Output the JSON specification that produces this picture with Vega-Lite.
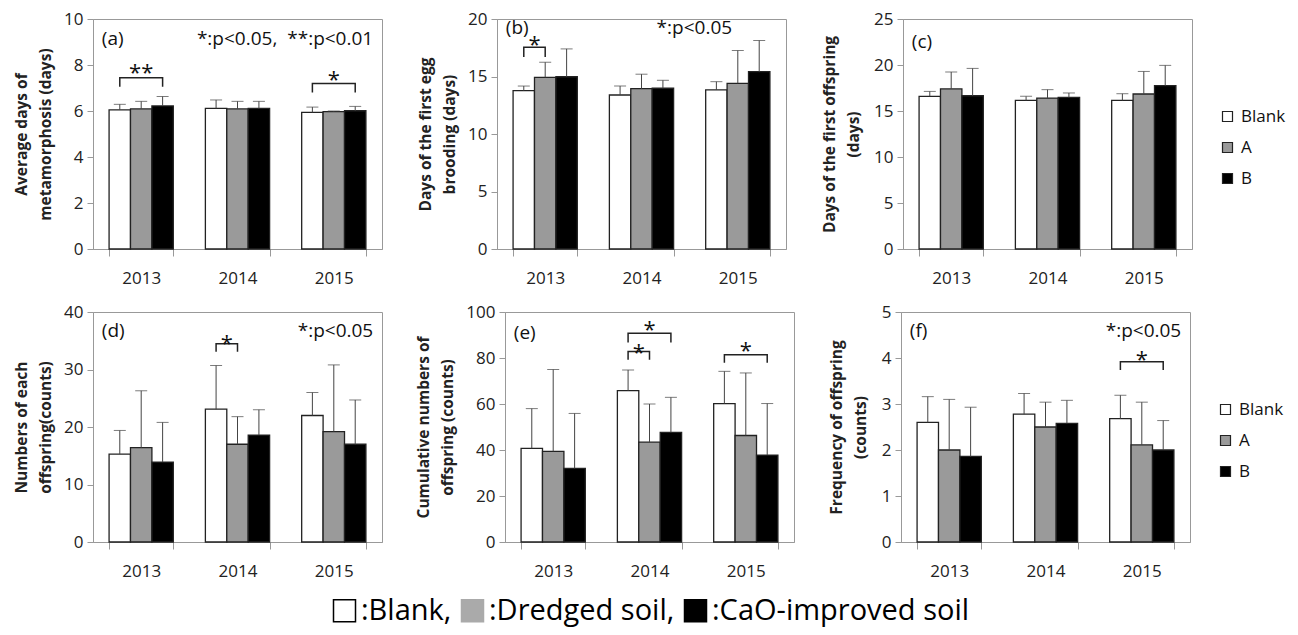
{
  "$schema": "https://vega.github.io/schema/vega-lite/v6.json",
  "padding": {"left": 14, "top": 9, "right": 0, "bottom": 25},
  "background": "white",
  "spacing": 15,
  "config": {
    "font": "Open Sans",
    "view": {"stroke": "#999", "strokeWidth": 1},
    "axis": {"domainColor": "#999", "tickColor": "#999", "labelColor": "#222", "labelFontSize": 17, "titleFontSize": 15.5, "titleFontWeight": "bold", "titleColor": "#222", "grid": false},
    "axisX": {"tickBand": "extent", "tickSize": 7, "labelPadding": 14, "labelAngle": 0},
    "axisY": {"tickSize": 6, "labelPadding": 4, "titlePadding": 10, "titleLineHeight": 24}
  },
  "datasets": {
    "bars": [
      {"panel": "a", "year": "2013", "group": "Blank", "mean": 6.05, "upper": 6.29},
      {"panel": "a", "year": "2013", "group": "A", "mean": 6.09, "upper": 6.42},
      {"panel": "a", "year": "2013", "group": "B", "mean": 6.22, "upper": 6.63},
      {"panel": "a", "year": "2014", "group": "Blank", "mean": 6.11, "upper": 6.48},
      {"panel": "a", "year": "2014", "group": "A", "mean": 6.09, "upper": 6.42},
      {"panel": "a", "year": "2014", "group": "B", "mean": 6.11, "upper": 6.42},
      {"panel": "a", "year": "2015", "group": "Blank", "mean": 5.94, "upper": 6.17},
      {"panel": "a", "year": "2015", "group": "A", "mean": 5.97, "upper": 6.0},
      {"panel": "a", "year": "2015", "group": "B", "mean": 6.01, "upper": 6.2},
      {"panel": "b", "year": "2013", "group": "Blank", "mean": 13.77, "upper": 14.17},
      {"panel": "b", "year": "2013", "group": "A", "mean": 14.93, "upper": 16.24},
      {"panel": "b", "year": "2013", "group": "B", "mean": 14.98, "upper": 17.4},
      {"panel": "b", "year": "2014", "group": "Blank", "mean": 13.39, "upper": 14.17},
      {"panel": "b", "year": "2014", "group": "A", "mean": 13.94, "upper": 15.2},
      {"panel": "b", "year": "2014", "group": "B", "mean": 13.98, "upper": 14.67},
      {"panel": "b", "year": "2015", "group": "Blank", "mean": 13.83, "upper": 14.55},
      {"panel": "b", "year": "2015", "group": "A", "mean": 14.41, "upper": 17.26},
      {"panel": "b", "year": "2015", "group": "B", "mean": 15.42, "upper": 18.13},
      {"panel": "c", "year": "2013", "group": "Blank", "mean": 16.6, "upper": 17.13},
      {"panel": "c", "year": "2013", "group": "A", "mean": 17.4, "upper": 19.24},
      {"panel": "c", "year": "2013", "group": "B", "mean": 16.66, "upper": 19.63},
      {"panel": "c", "year": "2014", "group": "Blank", "mean": 16.15, "upper": 16.59},
      {"panel": "c", "year": "2014", "group": "A", "mean": 16.41, "upper": 17.32},
      {"panel": "c", "year": "2014", "group": "B", "mean": 16.48, "upper": 16.96},
      {"panel": "c", "year": "2015", "group": "Blank", "mean": 16.15, "upper": 16.88},
      {"panel": "c", "year": "2015", "group": "A", "mean": 16.85, "upper": 19.3},
      {"panel": "c", "year": "2015", "group": "B", "mean": 17.75, "upper": 19.96},
      {"panel": "d", "year": "2013", "group": "Blank", "mean": 15.3, "upper": 19.4},
      {"panel": "d", "year": "2013", "group": "A", "mean": 16.4, "upper": 26.3},
      {"panel": "d", "year": "2013", "group": "B", "mean": 13.9, "upper": 20.8},
      {"panel": "d", "year": "2014", "group": "Blank", "mean": 23.1, "upper": 30.7},
      {"panel": "d", "year": "2014", "group": "A", "mean": 17.0, "upper": 21.8},
      {"panel": "d", "year": "2014", "group": "B", "mean": 18.6, "upper": 23.0},
      {"panel": "d", "year": "2015", "group": "Blank", "mean": 22.0, "upper": 26.0},
      {"panel": "d", "year": "2015", "group": "A", "mean": 19.2, "upper": 30.8},
      {"panel": "d", "year": "2015", "group": "B", "mean": 17.0, "upper": 24.7},
      {"panel": "e", "year": "2013", "group": "Blank", "mean": 40.7, "upper": 58.0},
      {"panel": "e", "year": "2013", "group": "A", "mean": 39.4, "upper": 75.0},
      {"panel": "e", "year": "2013", "group": "B", "mean": 32.0, "upper": 55.9},
      {"panel": "e", "year": "2014", "group": "Blank", "mean": 65.8, "upper": 74.8},
      {"panel": "e", "year": "2014", "group": "A", "mean": 43.4, "upper": 60.0},
      {"panel": "e", "year": "2014", "group": "B", "mean": 47.7, "upper": 62.9},
      {"panel": "e", "year": "2015", "group": "Blank", "mean": 60.2, "upper": 74.2},
      {"panel": "e", "year": "2015", "group": "A", "mean": 46.3, "upper": 73.5},
      {"panel": "e", "year": "2015", "group": "B", "mean": 37.8, "upper": 60.2},
      {"panel": "f", "year": "2013", "group": "Blank", "mean": 2.6, "upper": 3.16},
      {"panel": "f", "year": "2013", "group": "A", "mean": 2.0, "upper": 3.1},
      {"panel": "f", "year": "2013", "group": "B", "mean": 1.86, "upper": 2.93},
      {"panel": "f", "year": "2014", "group": "Blank", "mean": 2.78, "upper": 3.23},
      {"panel": "f", "year": "2014", "group": "A", "mean": 2.5, "upper": 3.04},
      {"panel": "f", "year": "2014", "group": "B", "mean": 2.58, "upper": 3.08},
      {"panel": "f", "year": "2015", "group": "Blank", "mean": 2.68, "upper": 3.19},
      {"panel": "f", "year": "2015", "group": "A", "mean": 2.11, "upper": 3.04},
      {"panel": "f", "year": "2015", "group": "B", "mean": 2.0, "upper": 2.64}
    ],
    "brackets": [
      {"panel": "a", "year": "2013", "id": "a1", "group": "Blank", "y": 7.05, "ord": 0},
      {"panel": "a", "year": "2013", "id": "a1", "group": "Blank", "y": 7.45, "ord": 1},
      {"panel": "a", "year": "2013", "id": "a1", "group": "B", "y": 7.45, "ord": 2},
      {"panel": "a", "year": "2013", "id": "a1", "group": "B", "y": 7.05, "ord": 3},
      {"panel": "a", "year": "2015", "id": "a2", "group": "Blank", "y": 6.8, "ord": 0},
      {"panel": "a", "year": "2015", "id": "a2", "group": "Blank", "y": 7.2, "ord": 1},
      {"panel": "a", "year": "2015", "id": "a2", "group": "B", "y": 7.2, "ord": 2},
      {"panel": "a", "year": "2015", "id": "a2", "group": "B", "y": 6.8, "ord": 3},
      {"panel": "b", "year": "2013", "id": "b1", "group": "Blank", "y": 16.7, "ord": 0},
      {"panel": "b", "year": "2013", "id": "b1", "group": "Blank", "y": 17.55, "ord": 1},
      {"panel": "b", "year": "2013", "id": "b1", "group": "A", "y": 17.55, "ord": 2},
      {"panel": "b", "year": "2013", "id": "b1", "group": "A", "y": 16.7, "ord": 3},
      {"panel": "d", "year": "2014", "id": "d1", "group": "Blank", "y": 33.1, "ord": 0},
      {"panel": "d", "year": "2014", "id": "d1", "group": "Blank", "y": 34.5, "ord": 1},
      {"panel": "d", "year": "2014", "id": "d1", "group": "A", "y": 34.5, "ord": 2},
      {"panel": "d", "year": "2014", "id": "d1", "group": "A", "y": 33.1, "ord": 3},
      {"panel": "e", "year": "2014", "id": "e1", "group": "Blank", "y": 86.7, "ord": 0},
      {"panel": "e", "year": "2014", "id": "e1", "group": "Blank", "y": 90.8, "ord": 1},
      {"panel": "e", "year": "2014", "id": "e1", "group": "B", "y": 90.8, "ord": 2},
      {"panel": "e", "year": "2014", "id": "e1", "group": "B", "y": 86.7, "ord": 3},
      {"panel": "e", "year": "2014", "id": "e2", "group": "Blank", "y": 79.2, "ord": 0},
      {"panel": "e", "year": "2014", "id": "e2", "group": "Blank", "y": 82.8, "ord": 1},
      {"panel": "e", "year": "2014", "id": "e2", "group": "A", "y": 82.8, "ord": 2},
      {"panel": "e", "year": "2014", "id": "e2", "group": "A", "y": 79.2, "ord": 3},
      {"panel": "e", "year": "2015", "id": "e3", "group": "Blank", "y": 77.9, "ord": 0},
      {"panel": "e", "year": "2015", "id": "e3", "group": "Blank", "y": 81.4, "ord": 1},
      {"panel": "e", "year": "2015", "id": "e3", "group": "B", "y": 81.4, "ord": 2},
      {"panel": "e", "year": "2015", "id": "e3", "group": "B", "y": 77.9, "ord": 3},
      {"panel": "f", "year": "2015", "id": "f1", "group": "Blank", "y": 3.74, "ord": 0},
      {"panel": "f", "year": "2015", "id": "f1", "group": "Blank", "y": 3.92, "ord": 1},
      {"panel": "f", "year": "2015", "id": "f1", "group": "B", "y": 3.92, "ord": 2},
      {"panel": "f", "year": "2015", "id": "f1", "group": "B", "y": 3.74, "ord": 3}
    ],
    "stars": [
      {"panel": "a", "year": "2013", "group": "A", "y": 7.88, "text": "**", "pos": "on"},
      {"panel": "a", "year": "2015", "group": "A", "y": 7.55, "text": "*", "pos": "on"},
      {"panel": "b", "year": "2013", "group": "Blank", "y": 18.2, "text": "*", "pos": "between"},
      {"panel": "d", "year": "2014", "group": "Blank", "y": 35.3, "text": "*", "pos": "between"},
      {"panel": "e", "year": "2014", "group": "A", "y": 94.4, "text": "*", "pos": "on"},
      {"panel": "e", "year": "2014", "group": "Blank", "y": 84.4, "text": "*", "pos": "between"},
      {"panel": "e", "year": "2015", "group": "A", "y": 85.3, "text": "*", "pos": "on"},
      {"panel": "f", "year": "2015", "group": "A", "y": 4.07, "text": "*", "pos": "on"}
    ],
    "notes": [
      {"panel": "a", "year": "2013", "group": "Blank", "y": 9.14, "text": "(a)", "side": "left"},
      {"panel": "a", "year": "2015", "group": "B", "y": 9.14, "text": "*:p<0.05,\u00a0\u00a0**:p<0.01", "side": "right"},
      {"panel": "b", "year": "2013", "group": "Blank", "y": 19.24, "text": "(b)", "side": "left"},
      {"panel": "b", "year": "2015", "group": "Blank", "y": 19.24, "text": "*:p<0.05", "side": "center"},
      {"panel": "c", "year": "2013", "group": "Blank", "y": 22.46, "text": "(c)", "side": "left"},
      {"panel": "d", "year": "2013", "group": "Blank", "y": 36.7, "text": "(d)", "side": "left"},
      {"panel": "d", "year": "2015", "group": "B", "y": 36.7, "text": "*:p<0.05", "side": "right"},
      {"panel": "e", "year": "2013", "group": "Blank", "y": 90.9, "text": "(e)", "side": "left"},
      {"panel": "f", "year": "2013", "group": "Blank", "y": 4.59, "text": "(f)", "side": "left"},
      {"panel": "f", "year": "2015", "group": "B", "y": 4.59, "text": "*:p<0.05", "side": "right"}
    ],
    "caption": [
      {"item": ":Blank,"},
      {"item": ":Dredged soil,"},
      {"item": ":CaO-improved soil"}
    ]
  },
  "vconcat": [
    {
      "spacing": 35,
      "resolve": {"scale": {"color": "independent"}, "legend": {"color": "independent"}},
      "hconcat": [
        {
          "width": 289, "height": 230,
          "encoding": {
            "x": {"field": "year", "type": "nominal", "title": null, "scale": {"paddingInner": 0.333, "paddingOuter": 0.167}},
            "xOffset": {"field": "group", "type": "nominal", "sort": ["Blank", "A", "B"], "scale": {"domain": ["Blank", "A", "B"]}}
          },
          "layer": [
            {"data": {"name": "bars"}, "transform": [{"filter": "datum.panel === 'a'"}],
             "mark": {"type": "bar", "stroke": "#222", "strokeWidth": 1.3},
             "encoding": {
               "y": {"field": "mean", "type": "quantitative", "scale": {"domain": [0, 10], "nice": false}, "axis": {"values": [0, 2, 4, 6, 8, 10], "title": ["Average days of", "metamorphosis (days)"]}},
               "color": {"field": "group", "type": "nominal", "scale": {"domain": ["Blank", "A", "B"], "range": ["#ffffff", "#9a9a9a", "#000000"]}, "legend": null}}},
            {"data": {"name": "bars"}, "transform": [{"filter": "datum.panel === 'a'"}],
             "mark": {"type": "rule", "color": "#444", "strokeWidth": 1},
             "encoding": {"y": {"field": "mean", "type": "quantitative", "scale": {"domain": [0, 10], "nice": false}}, "y2": {"field": "upper"}}},
            {"data": {"name": "bars"}, "transform": [{"filter": "datum.panel === 'a'"}],
             "mark": {"type": "tick", "color": "#444", "size": 12, "thickness": 1},
             "encoding": {"y": {"field": "upper", "type": "quantitative", "scale": {"domain": [0, 10], "nice": false}}}},
            {"data": {"name": "brackets"}, "transform": [{"filter": "datum.panel === 'a'"}],
             "mark": {"type": "line", "color": "#222", "strokeWidth": 1.5},
             "encoding": {"y": {"field": "y", "type": "quantitative", "scale": {"domain": [0, 10], "nice": false}}, "detail": {"field": "id"}, "order": {"field": "ord"}}},
            {"data": {"name": "stars"}, "transform": [{"filter": "datum.panel === 'a' && datum.pos === 'on'"}],
             "mark": {"type": "text", "fontSize": 22, "dy": 5, "color": "#111", "baseline": "middle"},
             "encoding": {"y": {"field": "y", "type": "quantitative", "scale": {"domain": [0, 10], "nice": false}}, "text": {"field": "text"}}},
            {"data": {"name": "notes"}, "transform": [{"filter": "datum.panel === 'a' && datum.side === 'left'"}],
             "mark": {"type": "text", "fontSize": 19, "align": "left", "dx": -18, "color": "#111", "baseline": "middle"},
             "encoding": {"y": {"field": "y", "type": "quantitative", "scale": {"domain": [0, 10], "nice": false}}, "text": {"field": "text"}}},
            {"data": {"name": "notes"}, "transform": [{"filter": "datum.panel === 'a' && datum.side === 'right'"}],
             "mark": {"type": "text", "fontSize": 19, "align": "right", "dx": 18, "color": "#111", "baseline": "middle"},
             "encoding": {"y": {"field": "y", "type": "quantitative", "scale": {"domain": [0, 10], "nice": false}}, "text": {"field": "text"}}}
          ]
        },
        {
          "width": 289, "height": 230,
          "encoding": {
            "x": {"field": "year", "type": "nominal", "title": null, "scale": {"paddingInner": 0.333, "paddingOuter": 0.167}},
            "xOffset": {"field": "group", "type": "nominal", "sort": ["Blank", "A", "B"], "scale": {"domain": ["Blank", "A", "B"]}}
          },
          "layer": [
            {"data": {"name": "bars"}, "transform": [{"filter": "datum.panel === 'b'"}],
             "mark": {"type": "bar", "stroke": "#222", "strokeWidth": 1.3},
             "encoding": {
               "y": {"field": "mean", "type": "quantitative", "scale": {"domain": [0, 20], "nice": false}, "axis": {"values": [0, 5, 10, 15, 20], "title": ["Days of the first egg", "brooding (days)"]}},
               "color": {"field": "group", "type": "nominal", "scale": {"domain": ["Blank", "A", "B"], "range": ["#ffffff", "#9a9a9a", "#000000"]}, "legend": null}}},
            {"data": {"name": "bars"}, "transform": [{"filter": "datum.panel === 'b'"}],
             "mark": {"type": "rule", "color": "#444", "strokeWidth": 1},
             "encoding": {"y": {"field": "mean", "type": "quantitative", "scale": {"domain": [0, 20], "nice": false}}, "y2": {"field": "upper"}}},
            {"data": {"name": "bars"}, "transform": [{"filter": "datum.panel === 'b'"}],
             "mark": {"type": "tick", "color": "#444", "size": 12, "thickness": 1},
             "encoding": {"y": {"field": "upper", "type": "quantitative", "scale": {"domain": [0, 20], "nice": false}}}},
            {"data": {"name": "brackets"}, "transform": [{"filter": "datum.panel === 'b'"}],
             "mark": {"type": "line", "color": "#222", "strokeWidth": 1.5},
             "encoding": {"y": {"field": "y", "type": "quantitative", "scale": {"domain": [0, 20], "nice": false}}, "detail": {"field": "id"}, "order": {"field": "ord"}}},
            {"data": {"name": "stars"}, "transform": [{"filter": "datum.panel === 'b' && datum.pos === 'between'"}],
             "mark": {"type": "text", "fontSize": 22, "dy": 5, "dx": 10.7, "color": "#111", "baseline": "middle"},
             "encoding": {"y": {"field": "y", "type": "quantitative", "scale": {"domain": [0, 20], "nice": false}}, "text": {"field": "text"}}},
            {"data": {"name": "notes"}, "transform": [{"filter": "datum.panel === 'b' && datum.side === 'left'"}],
             "mark": {"type": "text", "fontSize": 19, "align": "left", "dx": -18, "color": "#111", "baseline": "middle"},
             "encoding": {"y": {"field": "y", "type": "quantitative", "scale": {"domain": [0, 20], "nice": false}}, "text": {"field": "text"}}},
            {"data": {"name": "notes"}, "transform": [{"filter": "datum.panel === 'b' && datum.side === 'center'"}],
             "mark": {"type": "text", "fontSize": 19, "align": "center", "dx": -22, "color": "#111", "baseline": "middle"},
             "encoding": {"y": {"field": "y", "type": "quantitative", "scale": {"domain": [0, 20], "nice": false}}, "text": {"field": "text"}}}
          ]
        },
        {
          "width": 289, "height": 230,
          "encoding": {
            "x": {"field": "year", "type": "nominal", "title": null, "scale": {"paddingInner": 0.333, "paddingOuter": 0.167}},
            "xOffset": {"field": "group", "type": "nominal", "sort": ["Blank", "A", "B"], "scale": {"domain": ["Blank", "A", "B"]}}
          },
          "layer": [
            {"data": {"name": "bars"}, "transform": [{"filter": "datum.panel === 'c'"}],
             "mark": {"type": "bar", "stroke": "#222", "strokeWidth": 1.3},
             "encoding": {
               "y": {"field": "mean", "type": "quantitative", "scale": {"domain": [0, 25], "nice": false}, "axis": {"values": [0, 5, 10, 15, 20, 25], "titlePadding": 12, "title": ["Days of the first offspring", "(days)"]}},
               "color": {"field": "group", "type": "nominal", "scale": {"domain": ["Blank", "A", "B"], "range": ["#ffffff", "#9a9a9a", "#000000"]},
                 "legend": {"orient": "none", "legendX": 316, "legendY": 89, "title": null, "symbolType": "square", "symbolSize": 100, "symbolStrokeColor": "#222", "symbolStrokeWidth": 1.2, "labelFontSize": 17, "labelColor": "#111", "labelOffset": 5, "rowPadding": 13, "padding": 0}}}},
            {"data": {"name": "bars"}, "transform": [{"filter": "datum.panel === 'c'"}],
             "mark": {"type": "rule", "color": "#444", "strokeWidth": 1},
             "encoding": {"y": {"field": "mean", "type": "quantitative", "scale": {"domain": [0, 25], "nice": false}}, "y2": {"field": "upper"}}},
            {"data": {"name": "bars"}, "transform": [{"filter": "datum.panel === 'c'"}],
             "mark": {"type": "tick", "color": "#444", "size": 12, "thickness": 1},
             "encoding": {"y": {"field": "upper", "type": "quantitative", "scale": {"domain": [0, 25], "nice": false}}}},
            {"data": {"name": "notes"}, "transform": [{"filter": "datum.panel === 'c' && datum.side === 'left'"}],
             "mark": {"type": "text", "fontSize": 19, "align": "left", "dx": -18, "color": "#111", "baseline": "middle"},
             "encoding": {"y": {"field": "y", "type": "quantitative", "scale": {"domain": [0, 25], "nice": false}}, "text": {"field": "text"}}}
          ]
        }
      ]
    },
    {
      "spacing": 33,
      "resolve": {"scale": {"color": "independent"}, "legend": {"color": "independent"}},
      "hconcat": [
        {
          "width": 289, "height": 230,
          "encoding": {
            "x": {"field": "year", "type": "nominal", "title": null, "scale": {"paddingInner": 0.333, "paddingOuter": 0.167}},
            "xOffset": {"field": "group", "type": "nominal", "sort": ["Blank", "A", "B"], "scale": {"domain": ["Blank", "A", "B"]}}
          },
          "layer": [
            {"data": {"name": "bars"}, "transform": [{"filter": "datum.panel === 'd'"}],
             "mark": {"type": "bar", "stroke": "#222", "strokeWidth": 1.3},
             "encoding": {
               "y": {"field": "mean", "type": "quantitative", "scale": {"domain": [0, 40], "nice": false}, "axis": {"values": [0, 10, 20, 30, 40], "title": ["Numbers of each", "offspring(counts)"]}},
               "color": {"field": "group", "type": "nominal", "scale": {"domain": ["Blank", "A", "B"], "range": ["#ffffff", "#9a9a9a", "#000000"]}, "legend": null}}},
            {"data": {"name": "bars"}, "transform": [{"filter": "datum.panel === 'd'"}],
             "mark": {"type": "rule", "color": "#444", "strokeWidth": 1},
             "encoding": {"y": {"field": "mean", "type": "quantitative", "scale": {"domain": [0, 40], "nice": false}}, "y2": {"field": "upper"}}},
            {"data": {"name": "bars"}, "transform": [{"filter": "datum.panel === 'd'"}],
             "mark": {"type": "tick", "color": "#444", "size": 12, "thickness": 1},
             "encoding": {"y": {"field": "upper", "type": "quantitative", "scale": {"domain": [0, 40], "nice": false}}}},
            {"data": {"name": "brackets"}, "transform": [{"filter": "datum.panel === 'd'"}],
             "mark": {"type": "line", "color": "#222", "strokeWidth": 1.5},
             "encoding": {"y": {"field": "y", "type": "quantitative", "scale": {"domain": [0, 40], "nice": false}}, "detail": {"field": "id"}, "order": {"field": "ord"}}},
            {"data": {"name": "stars"}, "transform": [{"filter": "datum.panel === 'd' && datum.pos === 'between'"}],
             "mark": {"type": "text", "fontSize": 22, "dy": 5, "dx": 10.7, "color": "#111", "baseline": "middle"},
             "encoding": {"y": {"field": "y", "type": "quantitative", "scale": {"domain": [0, 40], "nice": false}}, "text": {"field": "text"}}},
            {"data": {"name": "notes"}, "transform": [{"filter": "datum.panel === 'd' && datum.side === 'left'"}],
             "mark": {"type": "text", "fontSize": 19, "align": "left", "dx": -18, "color": "#111", "baseline": "middle"},
             "encoding": {"y": {"field": "y", "type": "quantitative", "scale": {"domain": [0, 40], "nice": false}}, "text": {"field": "text"}}},
            {"data": {"name": "notes"}, "transform": [{"filter": "datum.panel === 'd' && datum.side === 'right'"}],
             "mark": {"type": "text", "fontSize": 19, "align": "right", "dx": 18, "color": "#111", "baseline": "middle"},
             "encoding": {"y": {"field": "y", "type": "quantitative", "scale": {"domain": [0, 40], "nice": false}}, "text": {"field": "text"}}}
          ]
        },
        {
          "width": 289, "height": 230,
          "encoding": {
            "x": {"field": "year", "type": "nominal", "title": null, "scale": {"paddingInner": 0.333, "paddingOuter": 0.167}},
            "xOffset": {"field": "group", "type": "nominal", "sort": ["Blank", "A", "B"], "scale": {"domain": ["Blank", "A", "B"]}}
          },
          "layer": [
            {"data": {"name": "bars"}, "transform": [{"filter": "datum.panel === 'e'"}],
             "mark": {"type": "bar", "stroke": "#222", "strokeWidth": 1.3},
             "encoding": {
               "y": {"field": "mean", "type": "quantitative", "scale": {"domain": [0, 100], "nice": false}, "axis": {"values": [0, 20, 40, 60, 80, 100], "title": ["Cumulative numbers of", "offspring (counts)"]}},
               "color": {"field": "group", "type": "nominal", "scale": {"domain": ["Blank", "A", "B"], "range": ["#ffffff", "#9a9a9a", "#000000"]}, "legend": null}}},
            {"data": {"name": "bars"}, "transform": [{"filter": "datum.panel === 'e'"}],
             "mark": {"type": "rule", "color": "#444", "strokeWidth": 1},
             "encoding": {"y": {"field": "mean", "type": "quantitative", "scale": {"domain": [0, 100], "nice": false}}, "y2": {"field": "upper"}}},
            {"data": {"name": "bars"}, "transform": [{"filter": "datum.panel === 'e'"}],
             "mark": {"type": "tick", "color": "#444", "size": 12, "thickness": 1},
             "encoding": {"y": {"field": "upper", "type": "quantitative", "scale": {"domain": [0, 100], "nice": false}}}},
            {"data": {"name": "brackets"}, "transform": [{"filter": "datum.panel === 'e'"}],
             "mark": {"type": "line", "color": "#222", "strokeWidth": 1.5},
             "encoding": {"y": {"field": "y", "type": "quantitative", "scale": {"domain": [0, 100], "nice": false}}, "detail": {"field": "id"}, "order": {"field": "ord"}}},
            {"data": {"name": "stars"}, "transform": [{"filter": "datum.panel === 'e' && datum.pos === 'on'"}],
             "mark": {"type": "text", "fontSize": 22, "dy": 5, "color": "#111", "baseline": "middle"},
             "encoding": {"y": {"field": "y", "type": "quantitative", "scale": {"domain": [0, 100], "nice": false}}, "text": {"field": "text"}}},
            {"data": {"name": "stars"}, "transform": [{"filter": "datum.panel === 'e' && datum.pos === 'between'"}],
             "mark": {"type": "text", "fontSize": 22, "dy": 5, "dx": 10.7, "color": "#111", "baseline": "middle"},
             "encoding": {"y": {"field": "y", "type": "quantitative", "scale": {"domain": [0, 100], "nice": false}}, "text": {"field": "text"}}},
            {"data": {"name": "notes"}, "transform": [{"filter": "datum.panel === 'e' && datum.side === 'left'"}],
             "mark": {"type": "text", "fontSize": 19, "align": "left", "dx": -18, "color": "#111", "baseline": "middle"},
             "encoding": {"y": {"field": "y", "type": "quantitative", "scale": {"domain": [0, 100], "nice": false}}, "text": {"field": "text"}}}
          ]
        },
        {
          "width": 289, "height": 230,
          "encoding": {
            "x": {"field": "year", "type": "nominal", "title": null, "scale": {"paddingInner": 0.333, "paddingOuter": 0.167}},
            "xOffset": {"field": "group", "type": "nominal", "sort": ["Blank", "A", "B"], "scale": {"domain": ["Blank", "A", "B"]}}
          },
          "layer": [
            {"data": {"name": "bars"}, "transform": [{"filter": "datum.panel === 'f'"}],
             "mark": {"type": "bar", "stroke": "#222", "strokeWidth": 1.3},
             "encoding": {
               "y": {"field": "mean", "type": "quantitative", "scale": {"domain": [0, 5], "nice": false}, "axis": {"values": [0, 1, 2, 3, 4, 5], "titlePadding": 13, "title": ["Frequency of offspring", "(counts)"]}},
               "color": {"field": "group", "type": "nominal", "scale": {"domain": ["Blank", "A", "B"], "range": ["#ffffff", "#9a9a9a", "#000000"]},
                 "legend": {"orient": "none", "legendX": 316, "legendY": 89, "title": null, "symbolType": "square", "symbolSize": 100, "symbolStrokeColor": "#222", "symbolStrokeWidth": 1.2, "labelFontSize": 17, "labelColor": "#111", "labelOffset": 5, "rowPadding": 13, "padding": 0}}}},
            {"data": {"name": "bars"}, "transform": [{"filter": "datum.panel === 'f'"}],
             "mark": {"type": "rule", "color": "#444", "strokeWidth": 1},
             "encoding": {"y": {"field": "mean", "type": "quantitative", "scale": {"domain": [0, 5], "nice": false}}, "y2": {"field": "upper"}}},
            {"data": {"name": "bars"}, "transform": [{"filter": "datum.panel === 'f'"}],
             "mark": {"type": "tick", "color": "#444", "size": 12, "thickness": 1},
             "encoding": {"y": {"field": "upper", "type": "quantitative", "scale": {"domain": [0, 5], "nice": false}}}},
            {"data": {"name": "brackets"}, "transform": [{"filter": "datum.panel === 'f'"}],
             "mark": {"type": "line", "color": "#222", "strokeWidth": 1.5},
             "encoding": {"y": {"field": "y", "type": "quantitative", "scale": {"domain": [0, 5], "nice": false}}, "detail": {"field": "id"}, "order": {"field": "ord"}}},
            {"data": {"name": "stars"}, "transform": [{"filter": "datum.panel === 'f' && datum.pos === 'on'"}],
             "mark": {"type": "text", "fontSize": 22, "dy": 5, "color": "#111", "baseline": "middle"},
             "encoding": {"y": {"field": "y", "type": "quantitative", "scale": {"domain": [0, 5], "nice": false}}, "text": {"field": "text"}}},
            {"data": {"name": "notes"}, "transform": [{"filter": "datum.panel === 'f' && datum.side === 'left'"}],
             "mark": {"type": "text", "fontSize": 19, "align": "left", "dx": -18, "color": "#111", "baseline": "middle"},
             "encoding": {"y": {"field": "y", "type": "quantitative", "scale": {"domain": [0, 5], "nice": false}}, "text": {"field": "text"}}},
            {"data": {"name": "notes"}, "transform": [{"filter": "datum.panel === 'f' && datum.side === 'right'"}],
             "mark": {"type": "text", "fontSize": 19, "align": "right", "dx": 18, "color": "#111", "baseline": "middle"},
             "encoding": {"y": {"field": "y", "type": "quantitative", "scale": {"domain": [0, 5], "nice": false}}, "text": {"field": "text"}}}
          ]
        }
      ]
    },
    {
      "width": 1, "height": 1,
      "view": {"stroke": null},
      "data": {"name": "caption"},
      "mark": {"type": "point", "shape": "square", "filled": true, "size": 0, "opacity": 1},
      "encoding": {
        "fill": {"field": "item", "type": "nominal", "sort": null, "scale": {"domain": [":Blank,", ":Dredged soil,", ":CaO-improved soil"], "range": ["#ffffff", "#aaaaaa", "#000000"]},
          "legend": {"orient": "none", "legendX": 237, "legendY": -3, "direction": "horizontal", "title": null, "symbolType": "square", "symbolSize": 484, "symbolStrokeWidth": 1.5, "symbolOpacity": 1, "labelFontSize": 29, "labelLimit": 0, "labelColor": "#000", "labelOffset": 2, "columnPadding": 6, "padding": 0}},
        "stroke": {"field": "item", "type": "nominal", "sort": null, "scale": {"domain": [":Blank,", ":Dredged soil,", ":CaO-improved soil"], "range": ["#000000", "#aaaaaa", "#000000"]},
          "legend": {"orient": "none", "legendX": 237, "legendY": -3, "direction": "horizontal", "title": null, "symbolType": "square", "symbolSize": 484, "symbolStrokeWidth": 1.5, "symbolOpacity": 1, "labelFontSize": 29, "labelLimit": 0, "labelColor": "#000", "labelOffset": 2, "columnPadding": 6, "padding": 0}}
      }
    }
  ],
  "resolve": {"scale": {"color": "independent", "fill": "independent", "stroke": "independent"}, "legend": {"color": "independent", "fill": "independent", "stroke": "independent"}}
}
